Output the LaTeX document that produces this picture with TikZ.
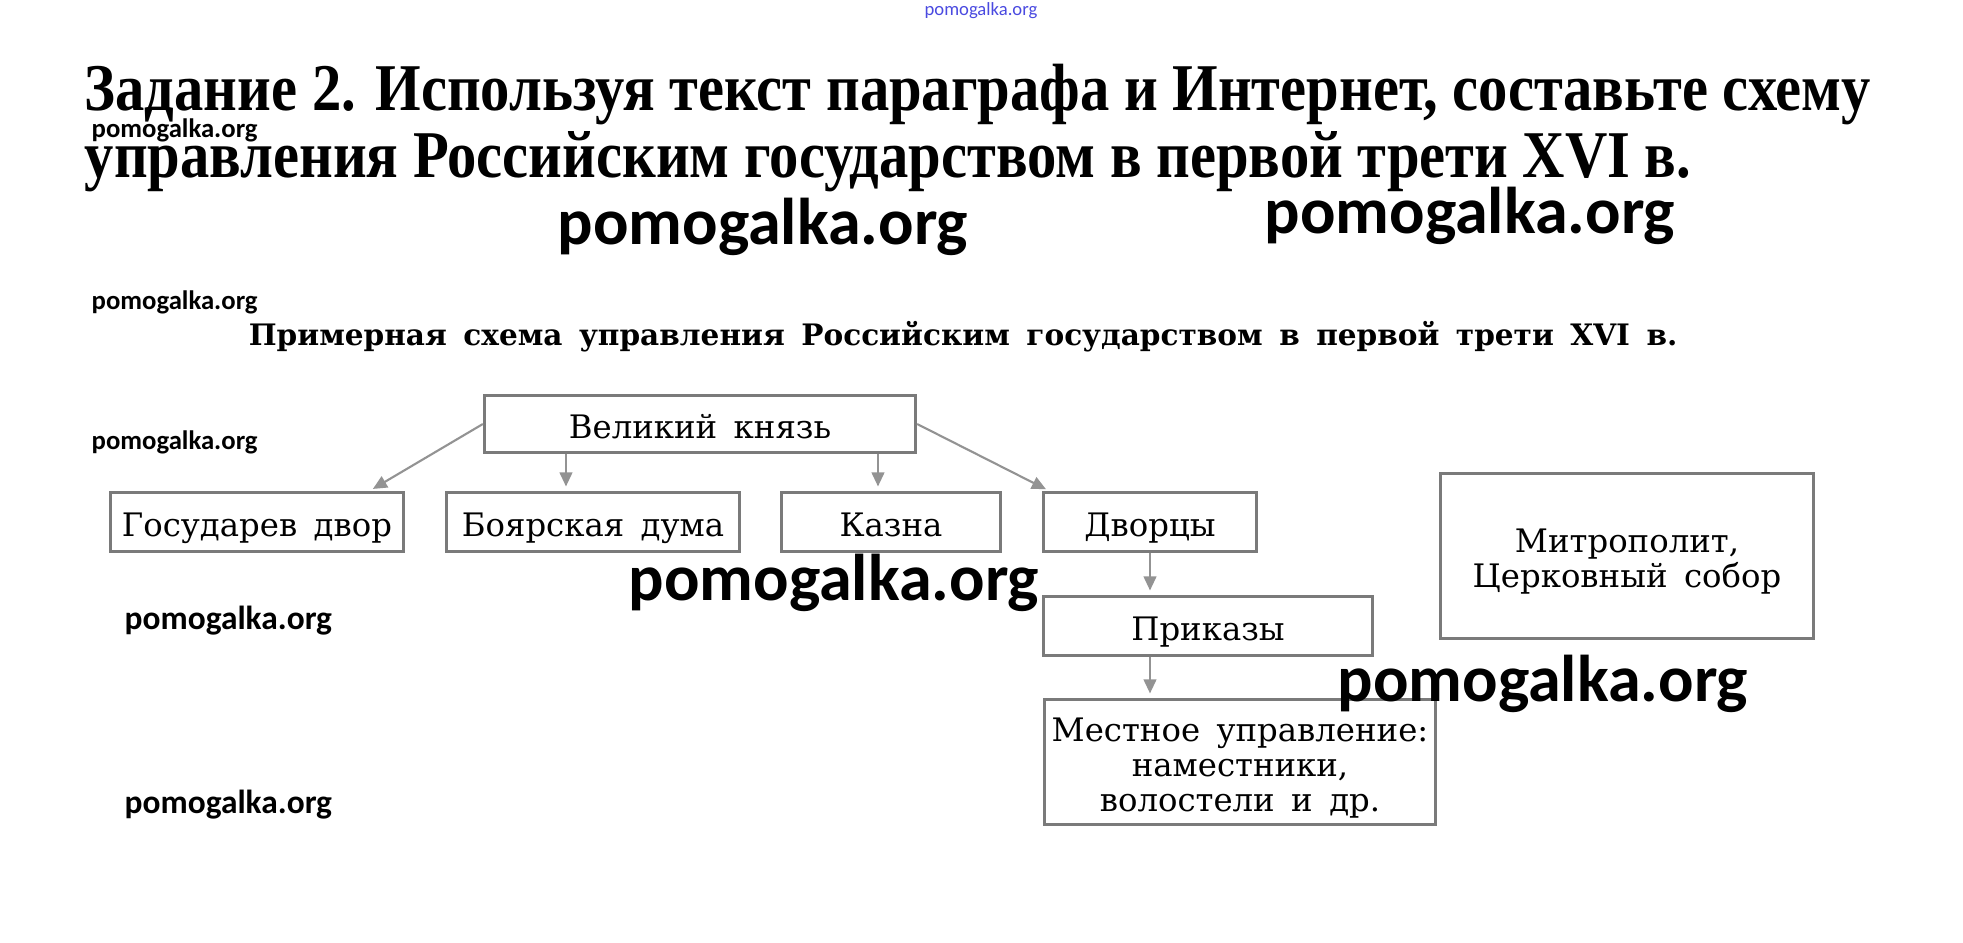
\documentclass[tikz,border=0pt]{standalone}
\usepackage{fontspec}
\setmainfont{DejaVu Serif}
\newfontfamily\titlefont{Liberation Serif}[FakeStretch=0.877]
\newfontfamily\boxfont{DejaVu Serif}[WordSpace=1.6]
\newfontfamily\wmfont{Carlito}
\usetikzlibrary{arrows.meta}
\definecolor{boxgray}{HTML}{7A7A7A}
\definecolor{arrgray}{HTML}{939393}
\definecolor{wmblue}{HTML}{4A4AE0}

\begin{document}
\begin{tikzpicture}[x=0.01cm, y=-0.01cm,
    box/.style={draw=boxgray, line width=0.85pt, inner sep=0pt, align=center,
        font=\boxfont\fontsize{9.2}{10}\selectfont},
    one/.style={text height=9pt, text depth=1pt},
    arr/.style={draw=arrgray, line width=0.6pt, -{Triangle[length=4pt,width=3.6pt]},
        shorten >=0.05cm},
    wm/.style={anchor=west, inner sep=0pt, font=\wmfont\bfseries}]
        \useasboundingbox (0,0) rectangle (1963,943);

        %Title
        \node [anchor=base west, inner sep=0pt, font=\titlefont\bfseries\fontsize{19}{19}\selectfont]
        (t1)at(84,111){Задание 2. Используя текст параграфа и Интернет, составьте схему};
        \node [anchor=base west, inner sep=0pt, font=\titlefont\bfseries\fontsize{19}{19}\selectfont]
        (t2)at(84,178){управления Российским государством в первой трети XVI в.};

        %Scheme caption
        \node [anchor=base, inner sep=0pt, font=\boxfont\bfseries\fontsize{8.4}{10}\selectfont]
        (sub)at(963,346){Примерная схема управления Российским государством в первой трети XVI в.};

        %Grand prince
        \node [box, one, minimum width = 4.31cm, minimum height = 0.57cm]
        (vk)at(700,424){Великий князь};

        %Second row
        \node [box, one, minimum width = 2.92cm, minimum height = 0.58cm]
        (gd)at(257,522){Государев двор};
        \node [box, one, minimum width = 2.92cm, minimum height = 0.58cm]
        (bd)at(593,522){Боярская дума};
        \node [box, one, minimum width = 2.18cm, minimum height = 0.58cm]
        (kz)at(891,522){Казна};
        \node [box, one, minimum width = 2.12cm, minimum height = 0.58cm]
        (dv)at(1150,522){Дворцы};

        %Prikazy
        \node [box, one, minimum width = 3.28cm, minimum height = 0.58cm]
        (pr)at(1208,626){Приказы};
        %Local government
        \node [box, minimum width = 3.91cm, minimum height = 1.24cm]
        (mu)at(1240,762){\rule{0pt}{10.3pt}Местное управление:\\наместники,\\волостели и др.};

        %Church
        \node [box, minimum width = 3.72cm, minimum height = 1.64cm]
        (mt)at(1627,556){\rule{0pt}{10.1pt}Митрополит,\\Церковный собор};

        \draw [arr](vk.west)--([xshift=-0.36cm]gd.north east);
        \draw [arr]([xshift=-0.27cm]vk.south -| bd.north)--([xshift=-0.27cm]bd.north);
        \draw [arr]([xshift=-0.13cm]vk.south -| kz.north)--([xshift=-0.13cm]kz.north);
        \draw [arr](vk.east)--([xshift=0.08cm]dv.north west);
        \draw [arr](dv.south)--(dv.south |- pr.north);
        \draw [arr](pr.south -| dv.south)--(dv.south |- mu.north);

        %pomogalka.org
        \node [wm, font=\wmfont\fontsize{5.3}{6}\selectfont, text=wmblue] (w0)at(924,11){pomogalka.org};
        \node [wm, font=\wmfont\bfseries\fontsize{7.6}{8}\selectfont] (w1)at(91,130){pomogalka.org};
        \node [wm, font=\wmfont\bfseries\fontsize{18.8}{19}\selectfont] (w2)at(557,227){pomogalka.org};
        \node [wm, font=\wmfont\bfseries\fontsize{18.8}{19}\selectfont] (w3)at(1264,216){pomogalka.org};
        \node [wm, font=\wmfont\bfseries\fontsize{7.6}{8}\selectfont] (w4)at(91,302){pomogalka.org};
        \node [wm, font=\wmfont\bfseries\fontsize{7.6}{8}\selectfont] (w5)at(91,442){pomogalka.org};
        \node [wm, font=\wmfont\bfseries\fontsize{18.8}{19}\selectfont] (w6)at(628,583){pomogalka.org};
        \node [wm, font=\wmfont\bfseries\fontsize{9.5}{10}\selectfont] (w7)at(124,621){pomogalka.org};
        \node [wm, font=\wmfont\bfseries\fontsize{18.8}{19}\selectfont] (w8)at(1337,684){pomogalka.org};
        \node [wm, font=\wmfont\bfseries\fontsize{9.5}{10}\selectfont] (w9)at(124,805){pomogalka.org};

    \end{tikzpicture}
\end{document}
